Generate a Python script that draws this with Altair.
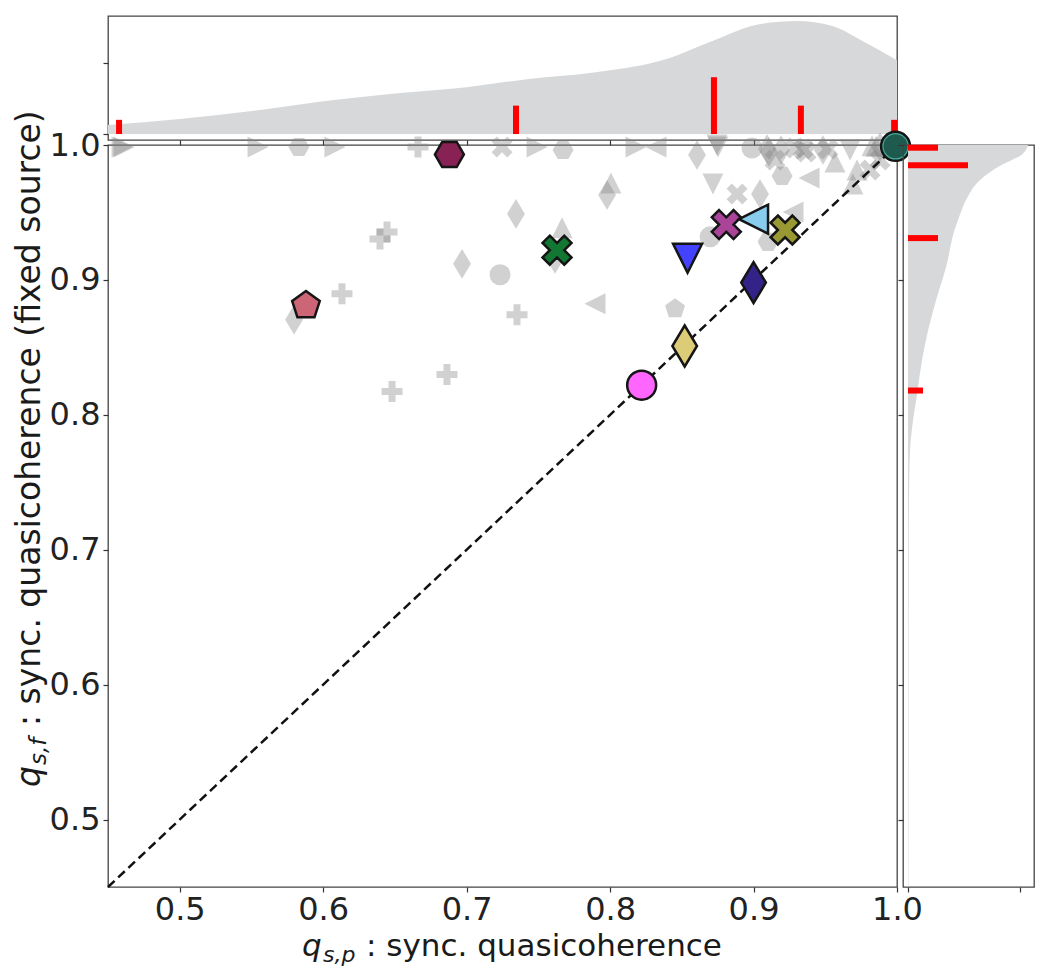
import altair as alt
import pandas as pd

# ---------------- data ----------------
# grey background markers
grey_shape = ["tri_right", "tri_right", "tri_right", "hexagon", "tri_right", "plus", "x", "tri_right",
              "hexagon", "tri_right", "tri_left", "diamond", "tri_down", "tri_down", "circle", "diamond",
              "diamond", "diamond", "x", "x", "x", "diamond", "x", "tri_down", "tri_up", "tri_up",
              "diamond", "x", "tri_up", "tri_up", "x", "hexagon", "tri_left", "tri_down", "x", "diamond",
              "tri_up", "diamond", "diamond", "tri_up", "diamond", "pentagon", "tri_left", "circle",
              "hexagon", "tri_left", "diamond", "circle", "plus", "plus", "plus", "plus", "plus", "plus",
              "diamond", "x", "tri_up"]
grey_x = [0.4598, 0.4612, 0.5546, 0.5831, 0.6082, 0.6661, 0.7247, 0.7491,
          0.7672, 0.8181, 0.8320, 0.8606, 0.8745, 0.8752, 0.8989, 0.9094,
          0.9108, 0.9192, 0.9289, 0.9345, 0.9366, 0.9484, 0.9519, 0.9673, 0.9826, 0.9854,
          0.9882, 0.9150, 0.9568, 0.9721, 0.9812, 0.9199, 0.9387, 0.8717, 0.8885, 0.9045,
          0.8006, 0.7979, 0.7344, 0.7665, 0.7616, 0.8453, 0.7895, 0.8697,
          0.9101, 0.9275, 0.6968, 0.7233, 0.7351, 0.6863, 0.6480, 0.6131, 0.6445, 0.6396,
          0.5797, 0.9882, 0.9693]
grey_y = [0.9985, 0.9985, 0.9985, 0.9985, 0.9985, 0.9985, 0.9985, 0.9985,
          0.9963, 0.9985, 0.9985, 0.9926, 1.0000, 0.9985, 0.9978, 0.9970,
          0.9948, 0.9963, 0.9978, 0.9970, 0.9948, 0.9963, 0.9970, 0.9963, 0.9995, 0.9990,
          0.9985, 0.9889, 0.9874, 0.9815, 0.9815, 0.9771, 0.9756, 0.9711, 0.9637, 0.9637,
          0.9719, 0.9630, 0.9489, 0.9386, 0.9156, 0.8786, 0.8823, 0.9319,
          0.9282, 0.9504, 0.9119, 0.9038, 0.8742, 0.8298, 0.8172, 0.8897, 0.9356, 0.9304,
          0.8705, 0.9889, 0.9711]

# highlighted markers
hl_id = ["p01", "p02", "p03", "p04", "p05", "p06", "p07", "p08", "p09", "p10"]
hl_shape = ["pentagon", "hexagon", "x", "circle", "diamond", "tri_down", "x", "tri_left", "diamond", "x"]
hl_x = [0.588, 0.688, 0.763, 0.822, 0.852, 0.854, 0.881, 0.900, 0.900, 0.922]
hl_y = [0.881, 0.993, 0.922, 0.822, 0.851, 0.916, 0.941, 0.945, 0.898, 0.937]
hl_colors = ["#CC6677", "#882255", "#117733", "#FF66FF", "#DDCC77", "#4343FF", "#AA4499",
             "#88CCEE", "#332288", "#999933"]

# the corner point
corner_x = [0.999]
corner_y = [0.999]

# diagonal reference line
diag_x = [0.45, 1.0]
diag_y = [0.45, 1.0]

# top marginal: density curve and red bars
top_kde_x = [0.45, 0.50, 0.56, 0.60, 0.65, 0.70, 0.745, 0.79, 0.84, 0.87, 0.905, 0.93, 0.955, 0.975, 1.0]
top_kde_d = [0.63, 1.05, 1.75, 2.3, 2.85, 3.3, 3.9, 4.35, 5.3, 6.5, 7.75, 7.95, 7.6, 6.6, 5.2]
top_bar_x = [0.4577, 0.7344, 0.8724, 0.933, 0.998]
top_bar_h = [1, 2, 4, 2, 1]

# right marginal: density curve and red bars
right_kde_v = [0.45, 0.60, 0.70, 0.75, 0.775, 0.79, 0.815, 0.84, 0.863, 0.886, 0.91, 0.937,
               0.948, 0.96, 0.975, 0.985, 0.993, 1.0]
right_kde_d = [0.03, 0.04, 0.05, 0.08, 0.14, 0.27, 0.6, 0.93, 1.35, 1.9, 2.55, 3.1,
               3.45, 3.9, 4.9, 6.2, 7.6, 8.0]
right_bar_v = [0.998, 0.985, 0.931, 0.818]
right_bar_len = [2, 4, 2, 1]

tick_vals = [0.5, 0.6, 0.7, 0.8, 0.9, 1.0]

# ---------------- styling ----------------
FONT = "DejaVu Sans"
SHAPES = {
    "circle": "circle",
    "pentagon": "M0,-1L0.951,-0.309L0.588,0.809L-0.588,0.809L-0.951,-0.309Z",
    "hexagon": "M1,0L0.5,0.866L-0.5,0.866L-1,0L-0.5,-0.866L0.5,-0.866Z",
    "x": "M-0.5,-1L0,-0.5L0.5,-1L1,-0.5L0.5,0L1,0.5L0.5,1L0,0.5L-0.5,1L-1,0.5L-0.5,0L-1,-0.5Z",
    "plus": "M-0.333,-1L0.333,-1L0.333,-0.333L1,-0.333L1,0.333L0.333,0.333L0.333,1L-0.333,1L-0.333,0.333L-1,0.333L-1,-0.333L-0.333,-0.333Z",
    "diamond": "M0,-1.414L0.85,0L0,1.414L-0.85,0Z",
    "tri_up": "M0,-1L1,1L-1,1Z",
    "tri_down": "M-1,-1L1,-1L0,1Z",
    "tri_left": "M-1,0L1,-1L1,1Z",
    "tri_right": "M1,0L-1,-1L-1,1Z",
}
shape_scale = alt.Scale(domain=list(SHAPES.keys()), range=list(SHAPES.values()))

W, H = 789, 742       # main plot area
TH = 124              # top marginal height
RW = 131              # right marginal width
LFS = 32              # tick label font size

xs = alt.Scale(domain=[0.45, 1.0], nice=False, zero=False)
ys = alt.Scale(domain=[0.45, 1.0], nice=False, zero=False)
top_ds = alt.Scale(domain=[-0.42, 8.31], nice=False, zero=False)
right_ds = alt.Scale(domain=[-0.333, 8.4], nice=False, zero=False)

main_x_axis = alt.Axis(values=tick_vals, format=".1f", title=None, labelFontSize=LFS, labelColor="#222",
                       labelFont=FONT, tickSize=5, tickColor="#333", tickWidth=1.2, labelPadding=2,
                       domain=False, grid=False, labelFlush=False)
main_y_axis = alt.Axis(values=tick_vals, format=".1f", title=None, labelFontSize=LFS, labelColor="#222",
                       labelFont=FONT, tickSize=5, tickColor="#333", tickWidth=1.2, labelPadding=3,
                       domain=False, grid=False, labelFlush=False)

grey_df = pd.DataFrame({"x": grey_x, "y": grey_y, "shape": grey_shape})
hl_df = pd.DataFrame({"x": hl_x, "y": hl_y, "shape": hl_shape, "id": hl_id})
corner_df = pd.DataFrame({"x": corner_x, "y": corner_y})
diag_df = pd.DataFrame({"x": diag_x, "y": diag_y})

grey = alt.Chart(grey_df).mark_point(filled=True, color="#808080", opacity=0.36, size=441, strokeWidth=0).encode(
    x=alt.X("x:Q", scale=xs, axis=main_x_axis),
    y=alt.Y("y:Q", scale=ys, axis=main_y_axis),
    shape=alt.Shape("shape:N", scale=shape_scale, legend=None),
)

diag = alt.Chart(diag_df).mark_line(color="#111", strokeDash=[9, 5], strokeWidth=2.5).encode(
    x=alt.X("x:Q", scale=xs), y=alt.Y("y:Q", scale=ys)
)

hl = alt.Chart(hl_df).mark_point(filled=True, opacity=1, size=841, stroke="#151515", strokeWidth=2.5).encode(
    x=alt.X("x:Q", scale=xs), y=alt.Y("y:Q", scale=ys),
    shape=alt.Shape("shape:N", scale=shape_scale, legend=None),
    fill=alt.Fill("id:N", scale=alt.Scale(domain=hl_id, range=hl_colors), legend=None),
)

corner_outer = alt.Chart(corner_df).mark_point(shape="circle", filled=True, opacity=1, size=841,
                                               fill="#44AA99", stroke="#151515", strokeWidth=2.5).encode(
    x=alt.X("x:Q", scale=xs), y=alt.Y("y:Q", scale=ys))
corner_inner = alt.Chart(corner_df).mark_point(shape="circle", filled=True, opacity=1, size=576,
                                               fill="#1F5A4E", strokeWidth=0).encode(
    x=alt.X("x:Q", scale=xs), y=alt.Y("y:Q", scale=ys))


def txt(s, x, y, size, italic=False, angle=0):
    props = dict(font=FONT, fontSize=size, align="left", baseline="alphabetic", color="#1a1a1a")
    if italic:
        props["fontStyle"] = "italic"
    if angle:
        props["angle"] = angle
    return alt.Chart(pd.DataFrame({"t": [s]})).mark_text(**props).encode(
        text="t:N", x=alt.value(x), y=alt.value(y))


# x title pieces: italic q, subscript, then the words
XFS, XSS = 31, 22
x0, xb = 194, 811
xt = [txt("q", x0, xb, XFS, True),
      txt("s,p", x0 + 21, xb + 6, XSS, True),
      txt(": sync. quasicoherence", x0 + 21 + 33 + 10, xb, XFS)]
# y title pieces (rotated, reading upward)
YFS, YSS = 33, 23
yb, y0 = -68, 642
yt = [txt("q", yb, y0, YFS, True, 270),
      txt("s,f", yb + 6, y0 - 22, YSS, True, 270),
      txt(": sync. quasicoherence (fixed source)", yb, y0 - 22 - 28 - 11, YFS, False, 270)]

main = alt.layer(grey, diag, hl, corner_outer, corner_inner, *xt, *yt).properties(width=W, height=H)

# ---------------- top marginal ----------------
top_kde_df = pd.DataFrame({"x": top_kde_x, "d": top_kde_d})
top_bar_df = pd.DataFrame({"x": top_bar_x, "h": top_bar_h})
top_area = alt.Chart(top_kde_df).mark_area(color="#D7D8DA", interpolate="monotone").encode(
    x=alt.X("x:Q", scale=xs, axis=alt.Axis(values=tick_vals, labels=False, title=None, tickSize=5,
                                           tickColor="#333", tickWidth=1.2, domain=False, grid=False)),
    y=alt.Y("d:Q", scale=top_ds, axis=alt.Axis(values=[0, 5], labels=False, title=None, tickSize=5,
                                               tickColor="#333", tickWidth=1.2, domain=False, grid=False)),
    y2=alt.datum(0),
)
top_bars = alt.Chart(top_bar_df).mark_rule(color="#FF0000", strokeWidth=6).encode(
    x=alt.X("x:Q", scale=xs), y=alt.Y("h:Q", scale=top_ds), y2=alt.datum(0))
top = alt.layer(top_area, top_bars).properties(width=W, height=TH)

# ---------------- right marginal ----------------
r_kde_df = pd.DataFrame({"v": right_kde_v, "d": right_kde_d})
r_bar_df = pd.DataFrame({"v": right_bar_v, "len": right_bar_len})
r_area = alt.Chart(r_kde_df).mark_area(color="#D7D8DA", orient="horizontal", interpolate="monotone").encode(
    y=alt.Y("v:Q", scale=ys, axis=alt.Axis(values=tick_vals, labels=False, title=None, tickSize=5,
                                           tickColor="#333", tickWidth=1.2, domain=False, grid=False)),
    x=alt.X("d:Q", scale=right_ds, axis=alt.Axis(values=[0, 7.5], labels=False, title=None, tickSize=5,
                                                 tickColor="#333", tickWidth=1.2, domain=False, grid=False)),
    x2=alt.datum(0),
)
r_bars = alt.Chart(r_bar_df).mark_rule(color="#FF0000", strokeWidth=6).encode(
    y=alt.Y("v:Q", scale=ys), x=alt.X("len:Q", scale=right_ds), x2=alt.datum(0))
right = alt.layer(r_area, r_bars).properties(width=RW, height=H)

# ---------------- empty corner cell ----------------
blank = alt.Chart(pd.DataFrame({"a": [0]})).mark_point(opacity=0).encode(
    x=alt.value(0), y=alt.value(0)
).properties(width=RW, height=TH, view=alt.ViewBackground(strokeOpacity=0))

chart = alt.concat(top, blank, main, right, columns=2, spacing={"row": 5, "column": 6},
                   bounds="flush").properties(
    padding={"left": 5, "top": 5, "right": 5, "bottom": 5}, background="white"
).configure_view(stroke="#444", strokeWidth=1.3).configure_axis(grid=False)

chart.save("out.html", embed_options={"renderer": "svg", "actions": False})
